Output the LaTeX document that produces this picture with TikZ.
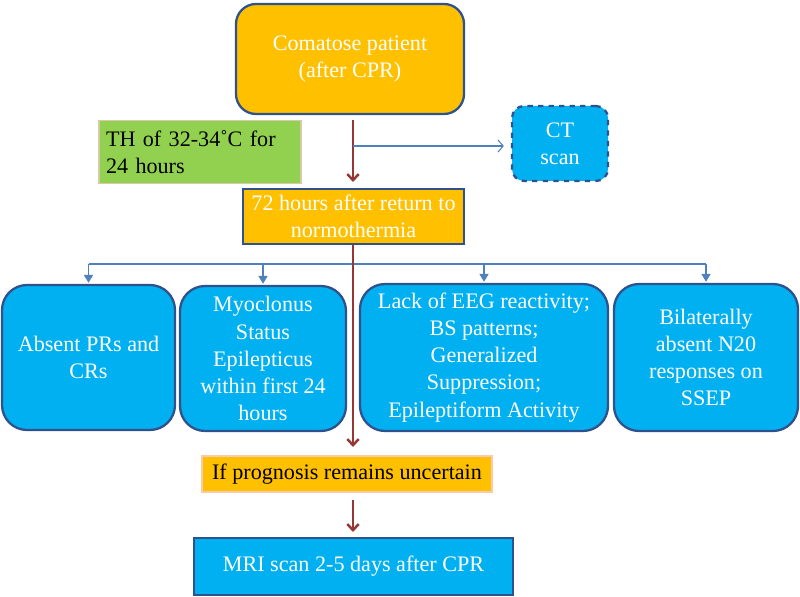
\documentclass[tikz,border=0pt]{standalone}
\usepackage{fontspec}
\setmainfont{Liberation Serif}
\usetikzlibrary{arrows.meta}
\definecolor{orng}{HTML}{FFC000}
\definecolor{cyanb}{HTML}{00B0F0}
\definecolor{grn}{HTML}{92D050}
\definecolor{bord}{HTML}{2F528F}
\definecolor{darkred}{HTML}{953735}
\definecolor{lineblue}{HTML}{4F81BD}
\definecolor{tan}{HTML}{D6CBA8}
\definecolor{pinkb}{HTML}{F8CBAD}
\begin{document}
\begin{tikzpicture}[x=0.02cm,y=-0.02cm,
  every node/.style={font=\fontsize{12.6}{15.4}\selectfont, align=center, inner sep=2pt},
  obox/.style={draw=bord, line width=1.3pt, fill=orng, text=white},
  cbox/.style={draw=bord, line width=1.3pt, fill=cyanb, text=white, rounded corners=0.5cm},
  redarr/.style={draw=darkred, line width=1.4pt, -{Straight Barb[length=3.5pt,width=6.5pt,line width=1.4pt]}},
  tree/.style={draw=lineblue, line width=1.1pt},
  treearr/.style={tree, -{Triangle[length=4.5pt,width=5pt]}}
]
\useasboundingbox (0,0) rectangle (800,597);
% top box
\node[obox, rounded corners=0.4cm, minimum width=228*0.02cm, minimum height=110*0.02cm] (top) at (350,59) {Comatose patient\\(after CPR)};
\path (350,2) (350,112);
% green box
\node[draw=tan, line width=1pt, fill=grn, text=black, align=left, text width=188*0.02cm, minimum height=63*0.02cm, inner sep=4pt] (th) at (200,152) {TH of 32-34˚C for\\24 hours};
% CT box
\node[cbox, dashed, rounded corners=0.24cm, minimum width=96*0.02cm, minimum height=75*0.02cm] (ct) at (560,143.5) {CT\\scan};
% 72 hours box
\node[obox, minimum width=221*0.02cm, minimum height=55*0.02cm] (h72) at (353.5,216.5) {72 hours after return to\\normothermia};
% four boxes
\node[cbox, minimum width=173*0.02cm, minimum height=145*0.02cm] (b1) at (88.5,357.5) {Absent PRs and\\CRs};
\node[cbox, minimum width=166*0.02cm, minimum height=145*0.02cm] (b2) at (263,358.5) {Myoclonus\\Status\\Epilepticus\\within first 24\\hours};
\node[cbox, minimum width=248*0.02cm, minimum height=147*0.02cm] (b3) at (484,357.5) {Lack of EEG reactivity;\\BS patterns;\\Generalized\\Suppression;\\Epileptiform Activity};
\node[cbox, minimum width=184*0.02cm, minimum height=147*0.02cm] (b4) at (706,357.5) {Bilaterally\\absent N20\\responses on\\SSEP};
% if box
\node[draw=pinkb, line width=1pt, fill=orng, text=black, minimum width=290*0.02cm, minimum height=36*0.02cm] (ifb) at (347,474) {If prognosis remains uncertain};
% MRI box
\node[draw=bord, line width=1.3pt, fill=cyanb, text=white, minimum width=319*0.02cm, minimum height=57*0.02cm] (mri) at (353.5,566.5) {MRI scan 2-5 days after CPR};
% connectors
\coordinate (a1) at (353,120);
\coordinate (a2) at (353,182);
\coordinate (br) at (353,146);
\coordinate (a3) at (353,447);
\coordinate (a4) at (353,500);
\coordinate (a5) at (353,532);
\draw[redarr] (a1) -- (a2);
\draw[draw=lineblue, line width=0.6pt, -{Straight Barb[length=3pt,width=7pt,line width=0.6pt]}] (br) -- ([xshift=-0.14cm]ct.west |- br);
\draw[tree] (b1.north |- 0,264) -- (b4.north |- 0,264);
\foreach \b in {b1,b2,b3,b4} {
  \draw[treearr] (\b.north |- 0,264) -- ([yshift=0.02cm]\b.north);
}
\draw[redarr] (a3 |- h72.south) -- (a3);
\draw[redarr] (a4) -- (a5);
\end{tikzpicture}
\end{document}
